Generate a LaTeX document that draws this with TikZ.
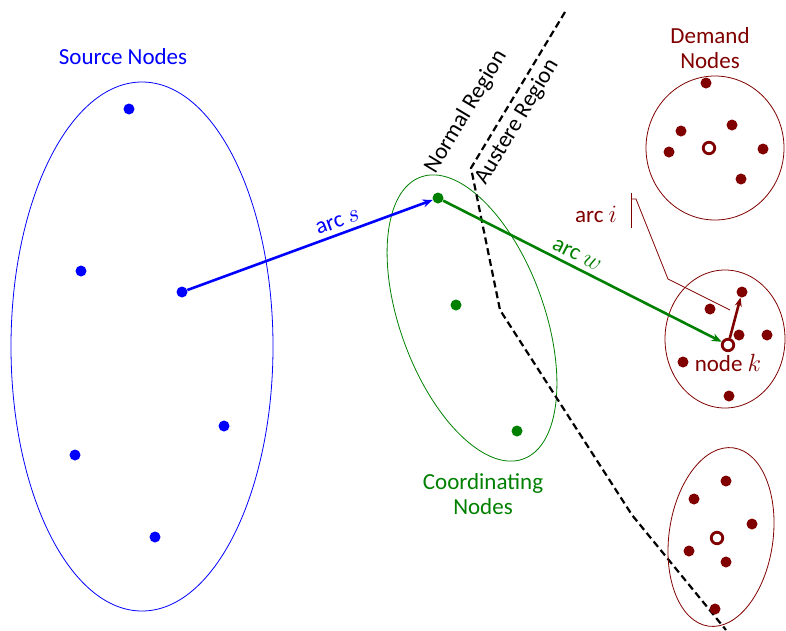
\documentclass[tikz,border=0pt]{standalone}
\usepackage{fontspec}
\setmainfont{Carlito}
\usetikzlibrary{arrows.meta}
\definecolor{dred}{RGB}{128,0,0}
\definecolor{dgreen}{RGB}{0,128,0}
\definecolor{dblue}{RGB}{0,0,255}
\begin{document}
\begin{tikzpicture}[x=1pt,y=-1pt,
  every node/.style={font=\fontsize{23}{25}\selectfont},
  dotn/.style={circle,fill,inner sep=0pt,minimum size=11pt},
  ringn/.style={circle,draw=dred,fill=white,line width=2.8pt,inner sep=0pt,minimum size=11.5pt},
  arcline/.style={line width=2.6pt,-{Stealth[length=10pt,width=8pt]}},
  region/.style={draw=black,line width=2.2pt,dash pattern=on 7pt off 4pt},
  lbl/.style={align=center,inner sep=0pt}]
\useasboundingbox (0,0) rectangle (786,630);
% Source nodes
\draw[dblue,line width=0.8pt] (142,346.5) ellipse [x radius=131, y radius=264.5];
\foreach \n/\p in {b1/{(129,109)},b2/{(81,271)},b3/{(182,292)},b4/{(224,426)},b5/{(75,455)},b6/{(155,537)}}
  \node[dotn,dblue] (\n) at \p {};
\node[lbl,dblue] (srclbl) at (123,57) {Source Nodes};
% Coordinating nodes
\draw[dgreen,line width=0.8pt,rotate around={20:(472,318)}] (472,318) ellipse [x radius=72, y radius=150];
\node[dotn,dgreen] (g1) at (438,198) {};
\node[dotn,dgreen] (g2) at (456,305) {};
\node[dotn,dgreen] (g3) at (517,431) {};
\node[lbl,dgreen] (coordlbl) at (483,494) {Coordinating\\Nodes};
% Region boundary
\draw[region] (565,12) -- (471,168) -- (500,310) -- (632,515) -- (726,630);
\node[lbl,rotate=59] (normal) at (466,112) {Normal Region};
\node[lbl,rotate=59] (austere) at (517,122) {Austere Region};
% Demand top
\draw[dred,line width=0.8pt] (715,148) ellipse [x radius=69, y radius=72];
\foreach \n/\p in {t1/{(706,83)},t2/{(681,131)},t3/{(732,125)},t4/{(669,152)},t5/{(763,149)},t6/{(741,179)}}
  \node[dotn,dred] (\n) at \p {};
\node[ringn] (tr) at (709,148) {};
\node[lbl,dred] (demlbl) at (710,48) {Demand\\Nodes};
% Demand middle
\draw[dred,line width=0.8pt] (725,339) ellipse [x radius=60, y radius=69];
\foreach \n/\p in {m1/{(742,292)},m2/{(710,309)},m3/{(739,335)},m4/{(767,335)},m5/{(683,362)},m6/{(729,396)}}
  \node[dotn,dred] (\n) at \p {};
\node[ringn] (k) at (728,345) {};
\node[lbl,dred] (klbl) at (728,363) {node $k$};
% Demand bottom
\draw[dred,line width=0.8pt,rotate around={-8:(721,537)}] (721,537) ellipse [x radius=52, y radius=90];
\foreach \n/\p in {d1/{(726,481)},d2/{(694,499)},d3/{(752,524)},d4/{(689,551)},d5/{(726,562)},d6/{(715,609)}}
  \node[dotn,dred] (\n) at \p {};
\node[ringn] (dr) at (717,538) {};
% Arcs
\draw[arcline,dblue] (b3) -- (g1) node[pos=0.63,above,sloped,dblue,inner sep=5pt] (slbl) {arc $s$};
\draw[arcline,dgreen] (g1) -- (k) node[pos=0.46,above,sloped,dgreen,inner sep=5pt] (wlbl) {arc $w$};
\draw[arcline,dred,-{Stealth[length=9pt,width=7pt]}] (k) -- (m1);
% arc i callout
\node[lbl,dred] (ilbl) at (596,214) {arc $i$};
\coordinate (pa) at (631,193);
\coordinate (pb) at (631,228);
\coordinate (pc) at (636,199);
\coordinate (pd) at (668,279);
\coordinate (pe) at (730,310);
\draw[dred,line width=0.8pt] (pa) -- (pb);
\draw[dred,line width=0.8pt] (631,199) -- (pc) -- (pd) -- (pe);
\end{tikzpicture}
\end{document}
